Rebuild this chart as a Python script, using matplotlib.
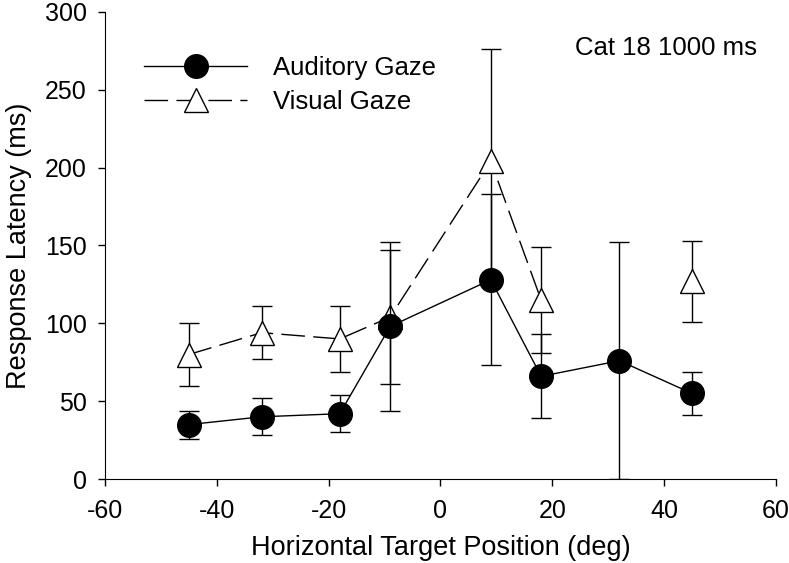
import numpy as np
import matplotlib
matplotlib.use("Agg")
from matplotlib import pyplot as plt
from matplotlib.lines import Line2D

plt.rcParams['font.family'] = ['Liberation Sans', 'DejaVu Sans']
plt.rcParams['axes.unicode_minus'] = False

# data
aud_x = [-45, -32, -18, -9, 9, 18, 32, 45]
aud_y = [35, 40, 42, 98, 128, 66, 76, 55]
aud_err = [9, 12, 12, 54, 55, 27, 76, 14]

vis_x = [-45, -32, -18, -9, 9, 18, 32, 45]
vis_y = [80, 94, 90, 104, 204, 115, np.nan, 127]
vis_err = [20, 17, 21, 43, 72, 34, np.nan, 26]

fig = plt.figure(figsize=(7.89, 5.63), dpi=100)
ax = fig.add_axes([0.133, 0.149, 0.8505, 0.830])

# visual gaze (dashed, open triangles)
ax.errorbar(vis_x, vis_y, yerr=vis_err, fmt='none', ecolor='black',
            elinewidth=1.0, capsize=7, capthick=1.0, zorder=2)
ax.plot(vis_x, vis_y, color='black', lw=1.0, dashes=(17, 6), zorder=2)
ax.plot(vis_x, vis_y, linestyle='none', marker='^', ms=17, mfc='white',
        mec='black', mew=1.0, zorder=3)

# auditory gaze (solid, filled circles)
ax.errorbar(aud_x, aud_y, yerr=aud_err, fmt='none', ecolor='black',
            elinewidth=1.0, capsize=7, capthick=1.0, zorder=4)
ax.plot(aud_x, aud_y, color='black', lw=1.0, zorder=4)
ax.plot(aud_x, aud_y, linestyle='none', marker='o', ms=17, mfc='black',
        mec='black', zorder=5)

ax.set_xlim(-60, 60)
ax.set_ylim(0, 300)
ax.set_xticks([-60, -40, -20, 0, 20, 40, 60])
ax.set_yticks([0, 50, 100, 150, 200, 250, 300])
ax.spines['top'].set_visible(False)
ax.spines['right'].set_visible(False)
ax.tick_params(direction='out', length=5, width=1, labelsize=18)
ax.tick_params(axis='y', pad=8)
ax.tick_params(axis='x', pad=9)
ax.set_xlabel('Horizontal Target Position (deg)', fontsize=19.5, labelpad=9)
ax.set_ylabel('Response Latency (ms)', fontsize=19.5, labelpad=9)

ax.text(24, 277, 'Cat 18 1000 ms', fontsize=18.5, va='center', ha='left')

h1 = Line2D([], [], color='black', lw=1.0, marker='o', ms=17, mfc='black')
h2 = Line2D([], [], color='black', lw=1.0, dashes=(17, 6), marker='^',
            ms=17, mfc='white', mec='black')
ax.legend([h1, h2], ['Auditory Gaze', 'Visual Gaze'], loc='upper left',
          bbox_to_anchor=(0.024, 0.955), frameon=False, fontsize=18.5,
          handlelength=4.0, handletextpad=1.0, labelspacing=0.4,
          numpoints=1)

fig.savefig('out.png', dpi=100)
